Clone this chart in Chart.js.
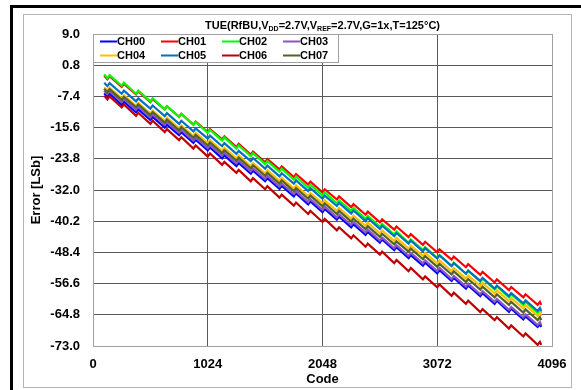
<!DOCTYPE html>
<html>
<head>
<meta charset="utf-8">
<script src="https://cdn.jsdelivr.net/npm/chart.js@4.4.0/dist/chart.umd.min.js"></script>
<style>
html, body { margin: 0; padding: 0; background: #fff; }
</style>
</head>
<body>
<canvas id="tueChart" width="581" height="390"></canvas>
<script>
//#####################################################################################//
//-- Data
const channelNames = ["CH00", "CH01", "CH02", "CH03", "CH04", "CH05", "CH06", "CH07"];
const channelColours = ["#0000FF", "#FF0000", "#00FF00", "#8A55C4", "#FFC000", "#0070C0", "#C00000", "#4F6228"];

const xTicks = [0, 1024, 2048, 3072, 4096];
const yTicks = [-73.0, -64.8, -56.6, -48.4, -40.2, -32.0, -23.8, -15.6, -7.4, 0.8, 9.0];

const firstCode = 100;
const lastCode = 4000;
//codes at the bottom of each tooth and at the top right after the jump
const troughCodes = [128, 256, 384, 512, 640, 768, 896, 1024, 1152, 1280, 1408, 1536, 1664, 1792, 1920, 2048,
    2176, 2304, 2432, 2560, 2688, 2816, 2944, 3072, 3200, 3328, 3456, 3584, 3712, 3840, 3968];
const peakCodes = [148, 276, 404, 532, 660, 788, 916, 1044, 1172, 1300, 1428, 1556, 1684, 1812, 1940, 2068,
    2196, 2324, 2452, 2580, 2708, 2836, 2964, 3092, 3220, 3348, 3476, 3604, 3732, 3860, 3988];

const firstValues = [-6.6, -2.0, -1.6, -5.9, -5.0, -3.8, -7.2, -5.4];
const lastValues = [-68.0, -62.2, -64.3, -67.5, -65.1, -63.8, -72.7, -66.2];

const ch00Troughs = [-7.5, -9.6, -11.6, -13.6, -15.6, -17.6, -19.6, -21.6, -23.7, -25.7, -27.7, -29.7, -31.7, -33.7, -35.8, -37.8,
    -39.8, -41.8, -43.8, -45.8, -47.8, -49.9, -51.9, -53.9, -55.9, -57.9, -59.9, -61.9, -64.0, -66.0, -68.0];
const ch00Peaks = [-6.7, -8.8, -10.8, -12.8, -14.8, -16.8, -18.8, -20.8, -22.9, -24.9, -26.9, -28.9, -30.9, -32.9, -35.0, -37.0,
    -39.0, -41.0, -43.0, -45.0, -47.0, -49.1, -51.1, -53.1, -55.1, -57.1, -59.1, -61.1, -63.2, -65.2, -67.2];

const ch01Troughs = [-2.9, -4.9, -6.9, -8.9, -10.8, -12.8, -14.8, -16.8, -18.7, -20.7, -22.7, -24.7, -26.6, -28.6, -30.6, -32.6,
    -34.5, -36.5, -38.5, -40.5, -42.4, -44.4, -46.4, -48.4, -50.3, -52.3, -54.3, -56.3, -58.3, -60.2, -62.2];
const ch01Peaks = [-2.1, -4.1, -6.1, -8.1, -10.0, -12.0, -14.0, -16.0, -17.9, -19.9, -21.9, -23.9, -25.8, -27.8, -29.8, -31.8,
    -33.7, -35.7, -37.7, -39.7, -41.6, -43.6, -45.6, -47.6, -49.5, -51.5, -53.5, -55.5, -57.5, -59.4, -61.4];

const ch02Troughs = [-2.6, -4.6, -6.7, -8.7, -10.8, -12.8, -14.9, -17.0, -19.0, -21.1, -23.1, -25.2, -27.2, -29.3, -31.4, -33.4,
    -35.5, -37.5, -39.6, -41.7, -43.7, -45.8, -47.8, -49.9, -51.9, -54.0, -56.1, -58.1, -60.2, -62.2, -64.3];
const ch02Peaks = [-1.8, -3.8, -5.9, -7.9, -10.0, -12.0, -14.1, -16.2, -18.2, -20.3, -22.3, -24.4, -26.4, -28.5, -30.6, -32.6,
    -34.7, -36.7, -38.8, -40.9, -42.9, -45.0, -47.0, -49.1, -51.1, -53.2, -55.3, -57.3, -59.4, -61.4, -63.5];

const ch03Troughs = [-6.8, -8.9, -10.9, -12.9, -14.9, -17.0, -19.0, -21.0, -23.0, -25.0, -27.1, -29.1, -31.1, -33.1, -35.2, -37.2,
    -39.2, -41.2, -43.2, -45.3, -47.3, -49.3, -51.3, -53.3, -55.4, -57.4, -59.4, -61.4, -63.5, -65.5, -67.5];
const ch03Peaks = [-6.0, -8.1, -10.1, -12.1, -14.1, -16.2, -18.2, -20.2, -22.2, -24.2, -26.3, -28.3, -30.3, -32.3, -34.4, -36.4,
    -38.4, -40.4, -42.4, -44.5, -46.5, -48.5, -50.5, -52.5, -54.6, -56.6, -58.6, -60.6, -62.7, -64.7, -66.7];

const ch04Troughs = [-5.9, -7.9, -9.9, -11.9, -13.8, -15.8, -17.8, -19.7, -21.7, -23.7, -25.7, -27.6, -29.6, -31.6, -33.6, -35.5,
    -37.5, -39.5, -41.4, -43.4, -45.4, -47.4, -49.3, -51.3, -53.3, -55.3, -57.2, -59.2, -61.2, -63.1, -65.1];
const ch04Peaks = [-5.1, -7.1, -9.1, -11.1, -13.0, -15.0, -17.0, -18.9, -20.9, -22.9, -24.9, -26.8, -28.8, -30.8, -32.8, -34.7,
    -36.7, -38.7, -40.6, -42.6, -44.6, -46.6, -48.5, -50.5, -52.5, -54.5, -56.4, -58.4, -60.4, -62.3, -64.3];

const ch05Troughs = [-4.7, -6.7, -8.7, -10.6, -12.6, -14.6, -16.6, -18.5, -20.5, -22.5, -24.4, -26.4, -28.4, -30.3, -32.3, -34.3,
    -36.2, -38.2, -40.2, -42.2, -44.1, -46.1, -48.1, -50.0, -52.0, -54.0, -55.9, -57.9, -59.9, -61.8, -63.8];
const ch05Peaks = [-3.9, -5.9, -7.9, -9.8, -11.8, -13.8, -15.8, -17.7, -19.7, -21.7, -23.6, -25.6, -27.6, -29.5, -31.5, -33.5,
    -35.4, -37.4, -39.4, -41.4, -43.3, -45.3, -47.3, -49.2, -51.2, -53.2, -55.1, -57.1, -59.1, -61.0, -63.0];

const ch06Troughs = [-8.2, -10.3, -12.5, -14.6, -16.8, -18.9, -21.1, -23.2, -25.4, -27.5, -29.7, -31.8, -34.0, -36.1, -38.3, -40.4,
    -42.6, -44.7, -46.9, -49.0, -51.2, -53.3, -55.5, -57.6, -59.8, -61.9, -64.1, -66.2, -68.4, -70.5, -72.7];
const ch06Peaks = [-7.4, -9.5, -11.7, -13.8, -16.0, -18.1, -20.3, -22.4, -24.6, -26.7, -28.9, -31.0, -33.2, -35.3, -37.5, -39.6,
    -41.8, -43.9, -46.1, -48.2, -50.4, -52.5, -54.7, -56.8, -59.0, -61.1, -63.3, -65.4, -67.6, -69.7, -71.9];

const ch07Troughs = [-6.3, -8.3, -10.3, -12.3, -14.3, -16.3, -18.3, -20.3, -22.3, -24.3, -26.3, -28.3, -30.3, -32.3, -34.3, -36.3,
    -38.3, -40.3, -42.3, -44.3, -46.3, -48.2, -50.2, -52.2, -54.2, -56.2, -58.2, -60.2, -62.2, -64.2, -66.2];
const ch07Peaks = [-5.5, -7.5, -9.5, -11.5, -13.5, -15.5, -17.5, -19.5, -21.5, -23.5, -25.5, -27.5, -29.5, -31.5, -33.5, -35.5,
    -37.5, -39.5, -41.5, -43.5, -45.5, -47.4, -49.4, -51.4, -53.4, -55.4, -57.4, -59.4, -61.4, -63.4, -65.4];

const allTroughs = [ch00Troughs, ch01Troughs, ch02Troughs, ch03Troughs, ch04Troughs, ch05Troughs, ch06Troughs, ch07Troughs];
const allPeaks = [ch00Peaks, ch01Peaks, ch02Peaks, ch03Peaks, ch04Peaks, ch05Peaks, ch06Peaks, ch07Peaks];

//#####################################################################################//
const fontFamily = "Arial, 'Liberation Sans', sans-serif";

//Stitch the typed points of one channel into {x, y} pairs
var buildPoints = function(ch) {
    let pts = [{ x: firstCode, y: firstValues[ch] }];
    for (let i = 0; i < troughCodes.length; i++) {
        pts.push({ x: troughCodes[i], y: allTroughs[ch][i] });
        pts.push({ x: peakCodes[i], y: allPeaks[ch][i] });
    }
    pts.push({ x: lastCode, y: lastValues[ch] });
    return pts;
}

var datasets = [];
for (let i = 0; i < channelNames.length; i++) {
    datasets.push({
        label: channelNames[i],
        data: buildPoints(i),
        borderColor: channelColours[i],
        backgroundColor: channelColours[i],
        borderWidth: 2.2,
        pointRadius: 0,
        tension: 0,
        fill: false,
        order: channelNames.length - i
    });
}

//Frame round the whole picture (black page edge + grey chart box)
var framePlugin = {
    id: "frame",
    beforeDraw: function(chart) {
        let ctx = chart.ctx;
        ctx.save();
        ctx.fillStyle = "#fff";
        ctx.fillRect(0, 0, chart.width, chart.height);
        ctx.fillStyle = "#000";
        ctx.fillRect(10, 5, 3, 385);
        ctx.fillRect(10, 5, 571, 3);
        ctx.strokeStyle = "#b4b4b4";
        ctx.lineWidth = 1;
        ctx.strokeRect(23.5, 14.5, 548, 373);
        ctx.restore();
    }
};

//Title with the subscripts, and the boxed legend inside the plot
var titleLegendPlugin = {
    id: "titleLegend",
    afterDraw: function(chart) {
        let ctx = chart.ctx;
        let area = chart.chartArea;
        ctx.save();

        let parts = [
            ["TUE(RfBU,V", false], ["DD", true], ["=2.7V,V", false], ["REF", true], ["=2.7V,G=1x,T=125\u00B0C)", false]
        ];
        let bigFont = "bold 11px " + fontFamily;
        let smallFont = "bold 7px " + fontFamily;
        let total = 0;
        for (let p of parts) {
            ctx.font = p[1] ? smallFont : bigFont;
            total += ctx.measureText(p[0]).width;
        }
        let x = (area.left + area.right) / 2 - total / 2;
        let baseY = 29;
        ctx.fillStyle = "#000";
        ctx.textBaseline = "alphabetic";
        ctx.textAlign = "left";
        for (let p of parts) {
            ctx.font = p[1] ? smallFont : bigFont;
            ctx.fillText(p[0], x, p[1] ? baseY + 2 : baseY);
            x += ctx.measureText(p[0]).width;
        }

        //legend box
        let boxX = area.left, boxY = area.top, boxW = 245, boxH = 28;
        ctx.fillStyle = "#fff";
        ctx.fillRect(boxX, boxY, boxW, boxH);
        ctx.strokeStyle = "#a0a0a0";
        ctx.lineWidth = 1;
        ctx.strokeRect(boxX + 0.5, boxY + 0.5, boxW, boxH);
        ctx.font = "bold 11px " + fontFamily;
        ctx.textBaseline = "middle";
        for (let i = 0; i < channelNames.length; i++) {
            let col = i % 4;
            let row = Math.floor(i / 4);
            let lx = boxX + 7 + col * 61;
            let ly = boxY + 7.5 + row * 14;
            ctx.strokeStyle = channelColours[i];
            ctx.lineWidth = 2;
            ctx.beginPath();
            ctx.moveTo(lx, ly);
            ctx.lineTo(lx + 17, ly);
            ctx.stroke();
            ctx.fillStyle = "#000";
            ctx.fillText(channelNames[i], lx + 17, ly + 0.5);
        }
        ctx.restore();
    }
};

var gridColour = function(ctx, edgeColour) {
    let v = ctx.tick ? ctx.tick.value : null;
    return edgeColour(v) ? "#a0a0a0" : "#5a5a5a";
}

var chart = new Chart(document.getElementById("tueChart"), {
    type: "line",
    data: { datasets: datasets },
    plugins: [framePlugin, titleLegendPlugin],
    options: {
        responsive: false,
        animation: false,
        devicePixelRatio: 1,
        layout: { padding: { left: 0, right: 29, top: 34, bottom: 0 } },
        plugins: {
            legend: { display: false },
            title: { display: false },
            tooltip: { enabled: false }
        },
        scales: {
            x: {
                type: "linear",
                min: 0,
                max: 4096,
                afterBuildTicks: function(scale) {
                    scale.ticks = xTicks.map(v => ({ value: v }));
                },
                afterFit: function(scale) {
                    scale.height = 44;
                },
                ticks: {
                    autoSkip: false,
                    maxRotation: 0,
                    padding: 11,
                    color: "#000",
                    font: { family: fontFamily, size: 13, weight: "bold" },
                    callback: function(v) { return v; }
                },
                grid: {
                    drawTicks: false,
                    lineWidth: 1,
                    color: function(ctx) { return gridColour(ctx, v => v === 0 || v === 4096); }
                },
                border: { display: true, color: "#a0a0a0" },
                title: {
                    display: true,
                    text: "Code",
                    color: "#000",
                    font: { family: fontFamily, size: 13, weight: "bold" },
                    padding: { top: 0, bottom: 3 }
                }
            },
            y: {
                type: "linear",
                min: -73,
                max: 9,
                afterBuildTicks: function(scale) {
                    scale.ticks = yTicks.map(v => ({ value: v }));
                },
                afterFit: function(scale) {
                    scale.width = 93;
                },
                ticks: {
                    autoSkip: false,
                    padding: 13,
                    color: "#000",
                    font: { family: fontFamily, size: 13, weight: "bold" },
                    callback: function(v) { return Number(v).toFixed(1); }
                },
                grid: {
                    drawTicks: false,
                    lineWidth: 1,
                    color: function(ctx) { return gridColour(ctx, v => v === 9 || v === -73); }
                },
                border: { display: true, color: "#a0a0a0" },
                title: {
                    display: true,
                    text: "Error [LSb]",
                    color: "#000",
                    font: { family: fontFamily, size: 13, weight: "bold" },
                    padding: { top: 29, bottom: 0 }
                }
            }
        }
    }
});
</script>
</body>
</html>
